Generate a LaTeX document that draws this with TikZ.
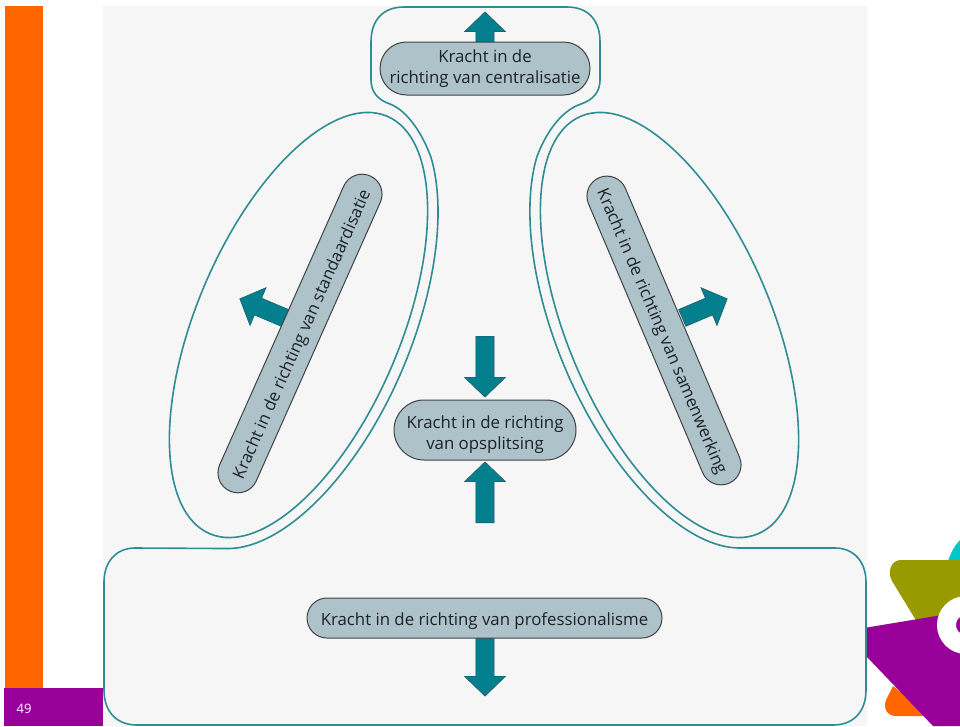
\documentclass[tikz,border=0pt]{standalone}
\usepackage{fontspec}
\setmainfont{Open Sans}
\usetikzlibrary{shapes.geometric,shapes.misc,shapes.arrows}
\definecolor{teal1}{HTML}{2F8C94}
\definecolor{arrowfill}{HTML}{047F8D}
\definecolor{arrowline}{HTML}{1D4F5A}
\definecolor{pillfill}{HTML}{ADC2C9}
\definecolor{pillline}{HTML}{3F4345}
\definecolor{panel}{HTML}{F7F6F6}
\definecolor{txt}{HTML}{1C2225}
\definecolor{slideorange}{HTML}{FF6600}
\definecolor{slidepurple}{HTML}{990099}
\definecolor{slideolive}{HTML}{999900}
\definecolor{slidecyan}{HTML}{00C8C8}
\tikzset{
  outline/.style={draw=teal1,line width=1.6pt},
  ell/.style={outline,ellipse,inner sep=0pt,minimum width=453.6pt,minimum height=204pt},
  pill/.style={rounded rectangle,draw=pillline,fill=pillfill,line width=1pt,inner sep=0pt,text=txt,align=center,font=\fontsize{16.8}{21}\selectfont},
  lowtext/.style={text height=15pt,text depth=0pt},
  arw/.style={single arrow,draw=arrowline,line width=0.4pt,fill=arrowfill,inner xsep=0pt,inner ysep=9pt,minimum width=41pt,single arrow head extend=11.5pt,single arrow tip angle=92,anchor=tail},
}
\begin{document}
\begin{tikzpicture}[x=1pt,y=-1pt]
\useasboundingbox (0,0) rectangle (960,726);
% slide
\fill[white] (0,0) rectangle (960,726);
\fill[panel] (103,6) rectangle (867,726);
\fill[slideorange] (5,6) rectangle (43,688);
\fill[slidepurple] (4,688) rectangle (103,726);
\node[text=white,font=\fontsize{13}{15}\selectfont] (pagenr) at (24,709) {49};
% logo
\begin{scope}
\clip (867,530) rectangle (960,726);
\fill[slidecyan] (948,561) .. controls (951,552) and (955,545) .. (960,540) -- (960,561) -- cycle;
\fill[slideolive] (960,560) -- (901,560) .. controls (891,560) and (887,572) .. (892,581) -- (917,622) -- (960,622) -- cycle;
\fill[slideorange] (893,686) -- (886,700) .. controls (883,708) and (887,716) .. (896,716) -- (930,716) -- cycle;
\fill[slidepurple] (867,627.5) -- (960,612) -- (960,726) -- (933,726) -- (867,657) -- cycle;
\draw[white,line width=19pt] (966,625) circle[radius=19.5pt];
\end{scope}
% outer outline
\coordinate (la) at (431,157.4);
\coordinate (ra) at (537,157.4);
\draw[outline] (371,80) .. controls (371,92) and (378,100) .. (390,104)
  .. controls (408,111) and (423,135) .. (la)
  {[rotate=67] arc[start angle=330,end angle=191.4,x radius=238pt,y radius=113pt]}
  -- (135,548) .. controls (116,548) and (104,562) .. (104,582)
  -- (104,690) .. controls (104,711) and (116,725) .. (137,725)
  -- (833,725) .. controls (854,725) and (866,711) .. (866,690)
  -- (866,582) .. controls (866,562) and (854,548) .. (835,548)
  -- (740,548)
  {[rotate=-67] arc[start angle=348.6,end angle=210,x radius=238pt,y radius=113pt]}
  .. controls (545,135) and (560,111) .. (581,104)
  .. controls (593,100) and (600,92) .. (600,80)
  -- (600,42) .. controls (600,20) and (588,7) .. (567,7)
  -- (404,7) .. controls (383,7) and (371,20) .. (371,42) -- cycle;
% ellipses
\node[ell,rotate=67] (leftell) at (298.5,325) {};
\node[ell,rotate=-67] (rightell) at (669.5,325) {};
% arrows
\node[arw,minimum height=32pt,rotate=90] (atop) at (485,44) {};
\node[arw,minimum height=61pt,rotate=-90] (amid1) at (485,336) {};
\node[arw,minimum height=61pt,rotate=90] (amid2) at (485,523) {};
\node[arw,minimum height=60pt,rotate=-90] (abot) at (485,636) {};
\node[arw,minimum height=49pt,rotate=157] (aleft) at (285,318) {};
\node[arw,minimum height=49pt,rotate=23] (aright) at (682,318) {};
% pills
\node[pill,minimum width=210pt,minimum height=53pt] (ptop) at (485,68.5) {Kracht in de\\richting van centralisatie};
\node[pill,inner xsep=-3pt,minimum width=176pt,minimum height=60pt,text height=44pt] (pmid) at (485,430) {Kracht in de richting\\van opsplitsing};
\node[pill,lowtext,minimum width=355pt,minimum height=40pt] (pbot) at (484.5,618) {Kracht in de richting van professionalisme};
\node[pill,lowtext,minimum width=345pt,minimum height=40pt,rotate=66] (pleft) at (300,333.5) {Kracht in de richting van standaardisatie};
\node[pill,lowtext,minimum width=332pt,minimum height=40pt,rotate=-67] (pright) at (664,330.5) {Kracht in de richting van samenwerking};
\end{tikzpicture}
\end{document}
